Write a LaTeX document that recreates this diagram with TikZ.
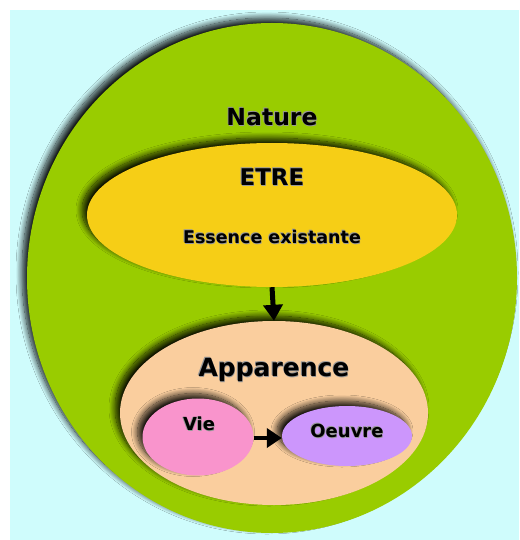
\documentclass[tikz,border=0pt]{standalone}
\usepackage{fontspec}
\setmainfont{DejaVu Sans}
\usetikzlibrary{shapes.geometric,shadows.blur,arrows.meta}

\definecolor{skybg}{RGB}{207,252,252}
\definecolor{leafgreen}{RGB}{153,204,0}
\definecolor{sunyellow}{RGB}{246,206,22}
\definecolor{peach}{RGB}{250,206,158}
\definecolor{rosepink}{RGB}{249,148,204}
\definecolor{lavender}{RGB}{204,150,252}

% bold label with a soft dark halo behind it
\newcommand\haloed[1]{%
  \makebox[0pt][l]{\kern-0.9pt\raisebox{0.9pt}{\color{black!40}#1}}%
  \makebox[0pt][l]{\kern0.5pt\raisebox{-0.5pt}{\color{black!40}#1}}#1}

\tikzset{
  blob/.style={ellipse, inner sep=0pt, draw=none,
    blur shadow={shadow xshift=-5pt, shadow yshift=5pt,
                 shadow blur radius=6pt, shadow blur steps=14,
                 shadow opacity=90}},
  word/.style={font=\bfseries, text=black, inner sep=0pt, anchor=center},
  flow/.style={line width=5pt, -{Triangle[length=16pt,width=19pt]}},
}

\begin{document}
\begin{tikzpicture}[x=1pt,y=-1pt]
  \useasboundingbox (0,0) rectangle (519,540);
  \fill[white] (0,0) rectangle (519,540);
  \fill[skybg] (10,10) rectangle (519,540);

  % nested spheres
  \node[blob, fill=leafgreen, minimum width=490pt, minimum height=510pt] (nature) at (272,278) {};
  \node[blob, fill=sunyellow, minimum width=370pt, minimum height=144pt] (etre) at (272,215) {};
  \node[blob, fill=peach, minimum width=308pt, minimum height=184pt] (app) at (274,413) {};
  \node[blob, fill=rosepink, minimum width=111pt, minimum height=77pt] (vie) at (198,437) {};
  \node[blob, fill=lavender, minimum width=130pt, minimum height=60pt] (oeuvre) at (347,436) {};

  % labels
  \node[word, font=\bfseries\fontsize{23.5}{26}\selectfont] (tnature) at (272,117) {\haloed{Nature}};
  \node[word, font=\bfseries\fontsize{23}{26}\selectfont] (tetre) at (272,177) {\haloed{ETRE}};
  \node[word, font=\bfseries\fontsize{17.5}{20}\selectfont] (tess) at (272,237) {\haloed{Essence existante}};
  \node[word, font=\bfseries\fontsize{25}{28}\selectfont] (tapp) at (274,370) {\haloed{Apparence}};
  \node[word, font=\bfseries\fontsize{18}{20}\selectfont] (tvie) at (199,424) {\haloed{Vie}};
  \node[word, font=\bfseries\fontsize{18}{20}\selectfont] (toeuvre) at (347,431) {\haloed{Oeuvre}};

  % connectors
  \draw[flow] (etre.south) -- (app.north);
  \draw[flow, line width=4.5pt, -{Triangle[length=15pt,width=19pt]}] (vie.east |- 0,438) -- (oeuvre.west |- 0,438);
\end{tikzpicture}
\end{document}
